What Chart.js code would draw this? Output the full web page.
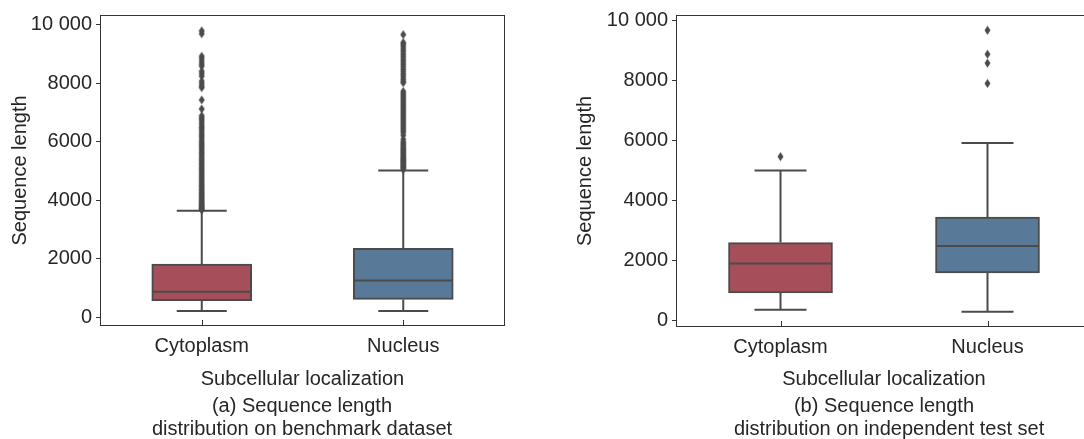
<!DOCTYPE html>
<html>
<head>
<meta charset="utf-8">
<script src="https://cdn.jsdelivr.net/npm/chart.js@4/dist/chart.umd.min.js"></script>
<style>
  html, body { margin: 0; padding: 0; background: #fff; overflow: hidden; }
  body { width: 1084px; height: 439px; position: relative; font-family: 'Liberation Sans', Arial, sans-serif; }
  .panel { position: absolute; top: 0; }
  .caption { position: absolute; font-size: 20px; line-height: 23px; color: #262626; text-align: center; white-space: nowrap; }
</style>
</head>
<body>
<div class="panel" style="left:0px"><canvas id="chartA" width="540" height="439"></canvas></div>
<div class="panel" style="left:560px"><canvas id="chartB" width="560" height="439"></canvas></div>
<div class="caption" style="left:152px; width:300px; top:394px">(a) Sequence length<br>distribution on benchmark dataset</div>
<div class="caption" style="left:734px; width:300px; top:394px">(b) Sequence length<br>distribution on independent test set</div>
<script>
// categories and axis ticks
const categories = ['Cytoplasm', 'Nucleus'];
const yTicks = [0, 2000, 4000, 6000, 8000, 10000];
const yTickLabels = ['0', '2000', '4000', '6000', '8000', '10 000'];
const boxColors = ['#a64f5a', '#587a98'];

// (a) benchmark dataset
const benchLow = [218, 218];
const benchQ1 = [569, 616];
const benchMedian = [875, 1263];
const benchQ3 = [1818, 2363];
const benchHigh = [3647, 5019];
const benchCytoOutliers = [9790, 9690, 8920, 8840, 8750, 8660, 8580, 8410, 8330, 8240, 8070, 7990, 7900, 7850,
  7430, 7120, 6890, 6820, 6760, 6690, 6610, 6530, 6470, 6400, 6320, 6250, 6180, 6110, 6030, 5960, 5890,
  5830, 5760, 5690, 5620, 5560, 5490, 5420, 5360, 5290, 5230, 5160, 5100, 5040, 4980, 4910, 4850, 4790,
  4730, 4670, 4610, 4550, 4490, 4440, 4380, 4330, 4270, 4220, 4170, 4120, 4070, 4020, 3970, 3930, 3880,
  3840, 3800, 3760, 3730, 3700, 3670];
const benchNucOutliers = [9660, 9390, 9330, 9250, 9160, 9080, 8990, 8910, 8820, 8740, 8650, 8570, 8480, 8400,
  8310, 8230, 8140, 8060, 8020, 7720, 7650, 7580, 7510, 7440, 7370, 7300, 7230, 7160, 7090, 7020, 6950,
  6880, 6810, 6740, 6670, 6600, 6530, 6460, 6390, 6320, 6220, 6080, 5990, 5930, 5870, 5810, 5760, 5710,
  5660, 5610, 5560, 5510, 5460, 5420, 5380, 5340, 5300, 5260, 5220, 5180, 5140, 5100, 5060];

// (b) independent test set
const testLow = [342, 276];
const testQ1 = [908, 1572];
const testMedian = [1885, 2470];
const testQ3 = [2583, 3434];
const testHigh = [4987, 5908];
const testCytoOutliers = [5452];
const testNucOutliers = [7889, 8567, 8866, 9664];

const lineColor = '#4b4b4b';
const textColor = '#262626';
const spineColor = '#333333';
const fontFamily = "'Liberation Sans', Arial, sans-serif";

// thin diamond like seaborn's 'd' marker
function makeDiamond() {
    const c = document.createElement('canvas');
    c.width = 7; c.height = 10;
    const g = c.getContext('2d');
    g.fillStyle = lineColor;
    g.beginPath();
    g.moveTo(3.5, 0.5);
    g.lineTo(6.5, 5);
    g.lineTo(3.5, 9.5);
    g.lineTo(0.5, 5);
    g.closePath();
    g.fill();
    return c;
}
const diamond = makeDiamond();

const boxParts = {
    id: 'boxParts',
    beforeDatasetsDraw(chart, args, opts) {
        const { ctx, scales: { x, y } } = chart;
        const bars = chart.getDatasetMeta(0).data;
        ctx.save();
        ctx.strokeStyle = lineColor;
        ctx.lineWidth = 2;
        opts.low.forEach((lo, i) => {
            const cx = x.getPixelForValue(i);
            const half = bars[i].width / 4;
            const yLo = y.getPixelForValue(lo);
            const yHi = y.getPixelForValue(opts.high[i]);
            ctx.beginPath();
            ctx.moveTo(cx, yLo);
            ctx.lineTo(cx, y.getPixelForValue(opts.q1[i]));
            ctx.moveTo(cx, y.getPixelForValue(opts.q3[i]));
            ctx.lineTo(cx, yHi);
            ctx.moveTo(cx - half, yLo);
            ctx.lineTo(cx + half, yLo);
            ctx.moveTo(cx - half, yHi);
            ctx.lineTo(cx + half, yHi);
            ctx.stroke();
        });
        ctx.restore();
    },
    afterDatasetsDraw(chart, args, opts) {
        const { ctx, scales: { x, y } } = chart;
        const bars = chart.getDatasetMeta(0).data;
        ctx.save();
        ctx.strokeStyle = lineColor;
        ctx.lineWidth = 2;
        opts.median.forEach((m, i) => {
            const cx = x.getPixelForValue(i);
            const half = bars[i].width / 2 - 1;
            const ym = y.getPixelForValue(m);
            ctx.beginPath();
            ctx.moveTo(cx - half, ym);
            ctx.lineTo(cx + half, ym);
            ctx.stroke();
        });
        ctx.restore();
    },
    afterDraw(chart) {
        const { ctx, chartArea: a, scales: { x } } = chart;
        ctx.save();
        ctx.strokeStyle = spineColor;
        ctx.lineWidth = 1;
        ctx.strokeRect(a.left - 0.5, a.top - 0.5, a.right - a.left + 1, a.bottom - a.top + 1);
        // x ticks point inward
        ctx.beginPath();
        categories.forEach((c, i) => {
            const px = Math.round(x.getPixelForValue(i)) + 0.5;
            ctx.moveTo(px, a.bottom);
            ctx.lineTo(px, a.bottom - 5);
        });
        ctx.stroke();
        ctx.restore();
    }
};

function makePanel(canvasId, p) {
    const ctx = document.getElementById(canvasId).getContext('2d');
    const toPoints = (vals, cat) => vals.map(v => ({ x: cat, y: v }));
    return new Chart(ctx, {
        type: 'bar',
        data: {
            labels: categories,
            datasets: [
                {
                    data: p.q1.map((q, i) => [q, p.q3[i]]),
                    backgroundColor: boxColors,
                    borderColor: lineColor,
                    borderWidth: 2,
                    borderSkipped: false,
                    barThickness: p.boxWidth
                },
                {
                    type: 'line',
                    data: toPoints(p.cytoOut, categories[0]).concat(toPoints(p.nucOut, categories[1])),
                    showLine: false,
                    pointStyle: diamond,
                    pointRadius: 4
                }
            ]
        },
        options: {
            responsive: false,
            animation: false,
            events: [],
            layout: { padding: { top: 15, right: p.padRight, left: 0, bottom: 0 } },
            scales: {
                x: {
                    grid: { display: false },
                    border: { display: false },
                    ticks: { color: textColor, padding: 1, font: { family: fontFamily, size: 20 } },
                    title: {
                        display: true,
                        text: 'Subcellular localization',
                        color: textColor,
                        font: { family: fontFamily, size: 20 },
                        padding: { top: 0, bottom: 48 }
                    },
                    afterFit: s => { s.height = p.xAxisHeight; }
                },
                y: {
                    min: p.yMin,
                    max: p.yMax,
                    grid: { drawOnChartArea: false, drawTicks: true, tickLength: 5, color: spineColor },
                    border: { display: false },
                    afterBuildTicks: s => { s.ticks = yTicks.map(v => ({ value: v })); },
                    ticks: {
                        color: textColor,
                        padding: 4,
                        font: { family: fontFamily, size: 20 },
                        callback: (v) => yTickLabels[yTicks.indexOf(v)]
                    },
                    title: {
                        display: true,
                        text: 'Sequence length',
                        color: textColor,
                        font: { family: fontFamily, size: 20 },
                        padding: { top: p.yTitlePad, bottom: 0 }
                    },
                    afterFit: s => { s.width = p.yAxisWidth; }
                }
            },
            plugins: {
                legend: { display: false },
                tooltip: { enabled: false },
                boxParts: { low: p.low, q1: p.q1, median: p.median, q3: p.q3, high: p.high }
            }
        },
        plugins: [boxParts]
    });
}

makePanel('chartA', {
    low: benchLow, q1: benchQ1, median: benchMedian, q3: benchQ3, high: benchHigh,
    cytoOut: benchCytoOutliers, nucOut: benchNucOutliers,
    yMin: -259, yMax: 10296, boxWidth: 100, padRight: 36, yAxisWidth: 101, xAxisHeight: 114, yTitlePad: 8
});
makePanel('chartB', {
    low: testLow, q1: testQ1, median: testMedian, q3: testQ3, high: testHigh,
    cytoOut: testCytoOutliers, nucOut: testNucOutliers,
    yMin: -199, yMax: 10140, boxWidth: 104, padRight: 29, yAxisWidth: 117, xAxisHeight: 113, yTitlePad: 13
});
</script>
</body>
</html>
